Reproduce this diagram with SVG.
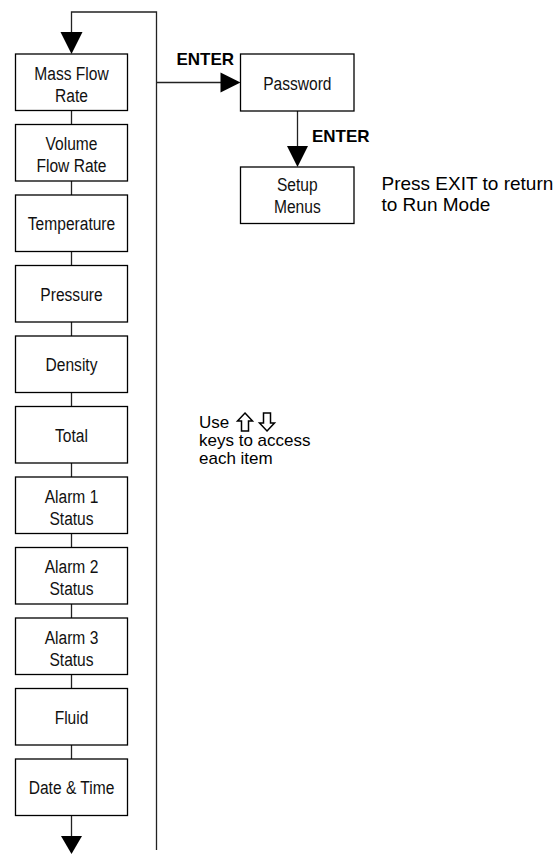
<svg xmlns="http://www.w3.org/2000/svg" width="555" height="854" viewBox="0 0 555 854">
<defs>
<style>
.box{fill:#fff;stroke:#000;stroke-width:1.3}
.ln{fill:none;stroke:#222;stroke-width:1.3}
.ah{fill:#000;stroke:none}
.nt{font-family:"Liberation Sans",Arial,sans-serif;font-size:19px;fill:#111;text-anchor:middle}
.lb{font-family:"Liberation Sans",Arial,sans-serif;font-size:17px;font-weight:bold;fill:#000}
.nr{font-family:"Liberation Sans",Arial,sans-serif;fill:#000}
.key{fill:#fff;stroke:#000;stroke-width:1.5;stroke-linejoin:miter}
</style>
</defs>
<rect width="555" height="854" fill="#fff"/>
<g id="connectors">
<path class="ln" d="M156.5 850 V12 H71.5 V33"/>
<polygon class="ah" points="60.5,32 82.5,32 71.5,54"/>
<path class="ln" d="M71.5 110.5 V124.5 M71.5 181 V195 M71.5 251.5 V265.5 M71.5 322 V336 M71.5 392.5 V406.5 M71.5 463 V477 M71.5 533.5 V547.5 M71.5 604 V618 M71.5 674.5 V688.5 M71.5 745 V759 M71.5 815.5 V837"/>
<polygon class="ah" points="61,836 82,836 71.5,854"/>
<path class="ln" d="M156.5 82.5 H221"/>
<polygon class="ah" points="220.5,72.5 240.5,82.5 220.5,92.5"/>
<path class="ln" d="M297.5 111 V147"/>
<polygon class="ah" points="287,146 308,146 297.5,167"/>
<text class="lb" x="234" y="65" text-anchor="end">ENTER</text>
<text class="lb" x="312" y="142">ENTER</text>
</g>
<g id="n-massflow"><rect class="box" x="15.5" y="54" width="112" height="56.5"/><text class="nt" transform="translate(71.5 79.5) scale(0.82 1)">Mass Flow</text><text class="nt" transform="translate(71.5 101.5) scale(0.82 1)">Rate</text></g>
<g id="n-volumeflow"><rect class="box" x="15.5" y="124.5" width="112" height="56.5"/><text class="nt" transform="translate(71.5 150) scale(0.82 1)">Volume</text><text class="nt" transform="translate(71.5 172) scale(0.82 1)">Flow Rate</text></g>
<g id="n-temperature"><rect class="box" x="15.5" y="195" width="112" height="56.5"/><text class="nt" transform="translate(71.5 230) scale(0.82 1)">Temperature</text></g>
<g id="n-pressure"><rect class="box" x="15.5" y="265.5" width="112" height="56.5"/><text class="nt" transform="translate(71.5 300.5) scale(0.82 1)">Pressure</text></g>
<g id="n-density"><rect class="box" x="15.5" y="336" width="112" height="56.5"/><text class="nt" transform="translate(71.5 371) scale(0.82 1)">Density</text></g>
<g id="n-total"><rect class="box" x="15.5" y="406.5" width="112" height="56.5"/><text class="nt" transform="translate(71.5 441.5) scale(0.82 1)">Total</text></g>
<g id="n-alarm1"><rect class="box" x="15.5" y="477" width="112" height="56.5"/><text class="nt" transform="translate(71.5 502.5) scale(0.82 1)">Alarm 1</text><text class="nt" transform="translate(71.5 524.5) scale(0.82 1)">Status</text></g>
<g id="n-alarm2"><rect class="box" x="15.5" y="547.5" width="112" height="56.5"/><text class="nt" transform="translate(71.5 573) scale(0.82 1)">Alarm 2</text><text class="nt" transform="translate(71.5 595) scale(0.82 1)">Status</text></g>
<g id="n-alarm3"><rect class="box" x="15.5" y="618" width="112" height="56.5"/><text class="nt" transform="translate(71.5 643.5) scale(0.82 1)">Alarm 3</text><text class="nt" transform="translate(71.5 665.5) scale(0.82 1)">Status</text></g>
<g id="n-fluid"><rect class="box" x="15.5" y="688.5" width="112" height="56.5"/><text class="nt" transform="translate(71.5 723.5) scale(0.82 1)">Fluid</text></g>
<g id="n-datetime"><rect class="box" x="15.5" y="759" width="112" height="56.5"/><text class="nt" transform="translate(71.5 794) scale(0.82 1)">Date &amp; Time</text></g>
<g id="n-password"><rect class="box" x="240.5" y="54" width="113.5" height="57"/><text class="nt" transform="translate(297.3 89.5) scale(0.82 1)">Password</text></g>
<g id="n-setup"><rect class="box" x="240.5" y="167" width="113.5" height="56.5"/><text class="nt" transform="translate(297.3 191) scale(0.82 1)">Setup</text><text class="nt" transform="translate(297.3 213) scale(0.82 1)">Menus</text></g>
<g id="note-exit">
<text class="nr" x="381.5" y="190" font-size="19">Press EXIT to return</text>
<text class="nr" x="381.5" y="211" font-size="19">to Run Mode</text>
</g>
<g id="note-keys">
<text class="nr" x="199" y="428" font-size="17">Use</text>
<polygon class="key" points="245,413 252.5,421 248.5,421 248.5,431 241.5,431 241.5,421 237.5,421"/>
<polygon class="key" points="267,431 274.5,423 270.5,423 270.5,413 263.5,413 263.5,423 259.5,423"/>
<text class="nr" x="199" y="446" font-size="17">keys to access</text>
<text class="nr" x="199" y="464" font-size="17">each item</text>
</g>
</svg>
